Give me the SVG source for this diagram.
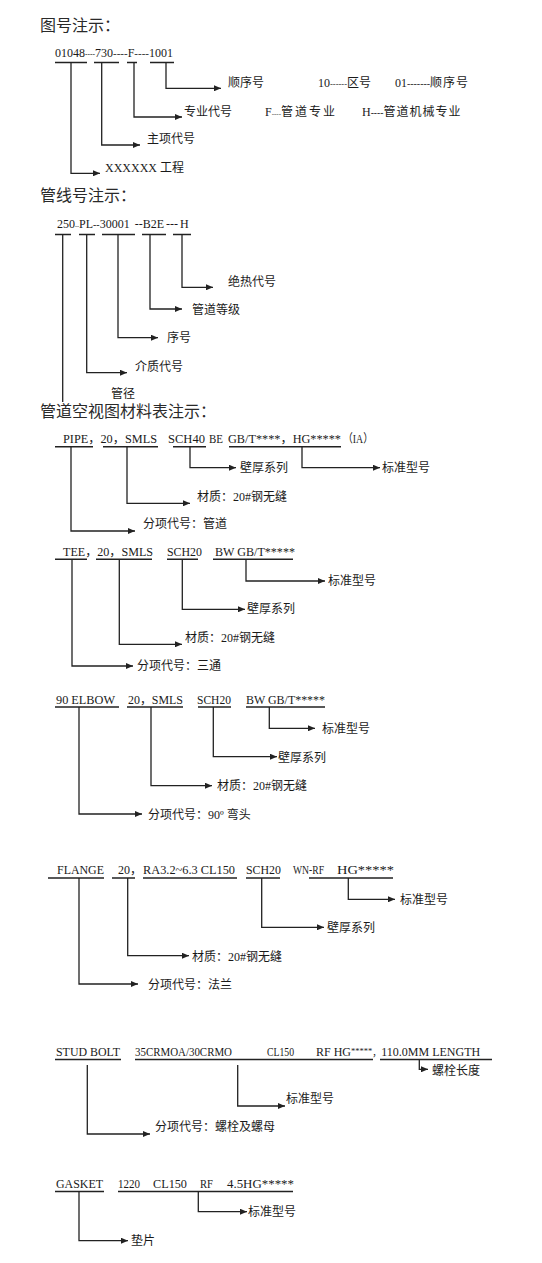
<svg xmlns="http://www.w3.org/2000/svg" width="542" height="1263" viewBox="0 0 542 1263">
<style>
text{font-family:"Liberation Serif","Noto Sans CJK SC",serif;font-size:12px;fill:#1a1a1a}
.h{font-family:"Noto Sans CJK SC",sans-serif;font-size:16px;fill:#2a2a2a}
.u{stroke:#222;stroke-width:1.6}
.k{fill:none;stroke:#222;stroke-width:1.3}
.a{marker-end:url(#arr)}
</style>
<defs>
<marker id="arr" markerUnits="userSpaceOnUse" viewBox="0 0 7 6" refX="7" refY="3" markerWidth="7" markerHeight="6" orient="auto">
<path d="M0,0 L7,3 L0,6 z" fill="#222"/>
</marker>
</defs>
<rect width="542" height="1263" fill="#fff"/>

<!-- Section 1 -->
<g id="title1"><text class="h" x="40" y="31">图号注示：</text></g>
<g id="code1">
<text x="55" y="57">01048<tspan font-size="7.5">----</tspan>730<tspan font-size="11">----</tspan>F<tspan font-size="11">----</tspan>1001</text>
<path class="u" d="M55,62.5H87M94,62.5H119M127,62.5H137M150,62.5H174"/>
</g>
<g id="l1a"><text x="105" y="171.5">XXXXXX 工程</text></g>
<g id="l1b"><text x="147" y="143">主项代号</text></g>
<g id="l1c">
<text x="184" y="115.5">专业代号</text>
<text x="265" y="115.5">F<tspan font-size="7">----</tspan><tspan letter-spacing="2">管道专业</tspan></text>
<text x="362" y="115.5">H<tspan font-size="9.6">----</tspan><tspan letter-spacing="1">管道机械专业</tspan></text>
</g>
<g id="l1d">
<text x="228" y="86.5">顺序号</text>
<text x="318" y="86.5">10<tspan font-size="8.5">------</tspan>区号</text>
<text x="395" y="86.5">01<tspan font-size="9.9">-------</tspan><tspan letter-spacing="1">顺序号</tspan></text>
</g>

<!-- Section 2 -->
<g id="title2"><text class="h" x="40" y="201">管线号注示：</text></g>
<g id="code2">
<text x="57" y="228">250<tspan font-size="6">--</tspan>PL<tspan font-size="10">--</tspan>30001<tspan dx="5">--</tspan>B2E<tspan dx="2">---</tspan><tspan dx="2">H</tspan></text>
<path class="u" d="M55,234.5H71M79,234.5H95M102,234.5H135M142,234.5H166M173,234.5H191"/>
</g>
<g id="l2a"><text x="228" y="285.5">绝热代号</text></g>
<g id="l2b"><text x="192" y="313.5">管道等级</text></g>
<g id="l2c"><text x="167" y="342">序号</text></g>
<g id="l2d"><text x="135" y="371">介质代号</text></g>
<g id="l2e"><text x="111" y="397.5">管径</text></g>

<!-- Section 3 -->
<g id="title3"><text class="h" x="40" y="417">管道空视图材料表注示：</text></g>
<g id="pipe">
<text x="63" y="443" textLength="94" lengthAdjust="spacingAndGlyphs">PIPE，20，SMLS</text>
<text x="168" y="443" textLength="37" lengthAdjust="spacingAndGlyphs">SCH40</text>
<text x="209" y="443" textLength="14" lengthAdjust="spacingAndGlyphs">BE</text>
<text x="228" y="443" textLength="113" lengthAdjust="spacingAndGlyphs">GB/T****，HG*****</text>
<text x="343" y="443" textLength="30" lengthAdjust="spacingAndGlyphs">（IA）</text>
<path class="u" d="M55,446.7H93M103,446.7H158M173,446.7H206M229,446.7H341"/>
</g>
<g id="pipe_l1"><text x="143" y="528">分项代号：管道</text></g>
<g id="pipe_l2"><text x="197" y="501">材质：20#钢无缝</text></g>
<g id="pipe_l3"><text x="240" y="471.5">壁厚系列</text></g>
<g id="pipe_l4"><text x="382" y="471.5">标准型号</text></g>

<g id="tee">
<text x="63" y="556" textLength="90" lengthAdjust="spacingAndGlyphs">TEE，20，SMLS</text>
<text x="167" y="556" textLength="35" lengthAdjust="spacingAndGlyphs">SCH20</text>
<text x="215" y="556" textLength="80" lengthAdjust="spacingAndGlyphs">BW GB/T*****</text>
<path class="u" d="M55,559.3H87M96,559.3H152M167,559.3H198M213,559.3H293"/>
</g>
<g id="tee_l1"><text x="137" y="670">分项代号：三通</text></g>
<g id="tee_l2"><text x="185" y="641.5">材质：20#钢无缝</text></g>
<g id="tee_l3"><text x="247" y="613.3">壁厚系列</text></g>
<g id="tee_l4"><text x="328" y="584.6">标准型号</text></g>

<g id="elbow">
<text x="56" y="704" textLength="59" lengthAdjust="spacingAndGlyphs">90 ELBOW</text>
<text x="128" y="704" textLength="55" lengthAdjust="spacingAndGlyphs">20，SMLS</text>
<text x="197" y="704" textLength="34" lengthAdjust="spacingAndGlyphs">SCH20</text>
<text x="246" y="704" textLength="79" lengthAdjust="spacingAndGlyphs">BW GB/T*****</text>
<path class="u" d="M55,707H119M127,707H183M198,707H231M246,707H325"/>
</g>
<g id="elbow_l1"><text x="148" y="819">分项代号：90º 弯头</text></g>
<g id="elbow_l2"><text x="217" y="790">材质：20#钢无缝</text></g>
<g id="elbow_l3"><text x="278" y="761.6">壁厚系列</text></g>
<g id="elbow_l4"><text x="322" y="733.3">标准型号</text></g>

<g id="flange">
<text x="57" y="874" textLength="47" lengthAdjust="spacingAndGlyphs">FLANGE</text>
<text x="118" y="874">20，</text>
<text x="143" y="874" textLength="92" lengthAdjust="spacingAndGlyphs">RA3.2~6.3 CL150</text>
<text x="246" y="874" textLength="35" lengthAdjust="spacingAndGlyphs">SCH20</text>
<text x="293" y="874" textLength="31" lengthAdjust="spacingAndGlyphs">WN-RF</text>
<text x="337" y="874" textLength="57" lengthAdjust="spacingAndGlyphs">HG*****</text>
<path class="u" d="M48,878H104M112,878H135M143,878H237M246,878H280M309,878H393"/>
</g>
<g id="flange_l1"><text x="148" y="989">分项代号：法兰</text></g>
<g id="flange_l2"><text x="192" y="960.6">材质：20#钢无缝</text></g>
<g id="flange_l3"><text x="327" y="932">壁厚系列</text></g>
<g id="flange_l4"><text x="400" y="903.6">标准型号</text></g>

<g id="stud">
<text x="56" y="1056" textLength="64" lengthAdjust="spacingAndGlyphs">STUD BOLT</text>
<text x="135" y="1056" textLength="97" lengthAdjust="spacingAndGlyphs">35CRMOA/30CRMO</text>
<text x="267" y="1056" textLength="27" lengthAdjust="spacingAndGlyphs">CL150</text>
<text x="316" y="1056">RF HG<tspan font-size="8.5" dy="-2">*****</tspan><tspan font-size="9" dy="2">，</tspan>110.0MM LENGTH</text>
<path class="u" d="M55,1059.5H121M135,1059.5H373M380,1059.5H492"/>
</g>
<g id="stud_l1"><text x="155" y="1131.3">分项代号：螺栓及螺母</text></g>
<g id="stud_l2"><text x="286" y="1103">标准型号</text></g>
<g id="stud_l3"><text x="432" y="1074.6">螺栓长度</text></g>

<g id="gasket">
<text x="56" y="1188.3" textLength="47" lengthAdjust="spacingAndGlyphs">GASKET</text>
<text x="118" y="1188.3" textLength="22" lengthAdjust="spacingAndGlyphs">1220</text>
<text x="153" y="1188.3" textLength="34" lengthAdjust="spacingAndGlyphs">CL150</text>
<text x="200" y="1188.3" textLength="13" lengthAdjust="spacingAndGlyphs">RF</text>
<text x="227" y="1188.3" textLength="67" lengthAdjust="spacingAndGlyphs">4.5HG*****</text>
<path class="u" d="M55,1191.5H104M118,1191.5H293"/>
</g>
<g id="gasket_l1"><text x="131" y="1245">垫片</text></g>
<g id="gasket_l2"><text x="248" y="1216">标准型号</text></g>

<g id="connectors" class="k">
<path class="a" d="M71,62.5V173.3H100"/>
<path class="a" d="M101.7,62.5V145H140"/>
<path class="a" d="M134,62.5V117H182"/>
<path class="a" d="M166,62.5V88.3H221"/>

<path d="M62.7,234.5V402"/>
<path class="a" d="M86.7,234.5V372.7H127"/>
<path class="a" d="M118,234.5V337.7H158"/>
<path class="a" d="M150,234.5V309H182"/>
<path class="a" d="M182,234.5V287.3H213"/>

<path class="a" d="M71,446.7V531H135"/>
<path class="a" d="M127,446.7V503.3H190"/>
<path class="a" d="M190,446.7V467.7H236"/>
<path class="a" d="M302,446.7V467.7H380"/>

<path class="a" d="M72,559.3V666H133"/>
<path class="a" d="M119.3,559.3V644.3H182"/>
<path class="a" d="M182.3,559.3V609.3H245"/>
<path class="a" d="M246,559.3V581H325"/>

<path class="a" d="M79,707V814H142"/>
<path class="a" d="M151,707V785.7H212"/>
<path class="a" d="M213.3,707V756.7H277"/>
<path class="a" d="M269.3,707V728.3H315"/>

<path class="a" d="M79,878V984H138"/>
<path class="a" d="M127.7,878V955.7H189"/>
<path class="a" d="M261.7,878V927.3H324"/>
<path class="a" d="M348.3,878V899.3H395"/>

<path class="a" d="M87.3,1065V1134H150"/>
<path class="a" d="M237.7,1065V1106H285"/>
<path class="a" d="M419.3,1059.5V1069.3H428"/>

<path class="a" d="M79,1191.5V1240.7H128"/>
<path class="a" d="M198.3,1191.5V1211.7H247"/>
</g>
</svg>
